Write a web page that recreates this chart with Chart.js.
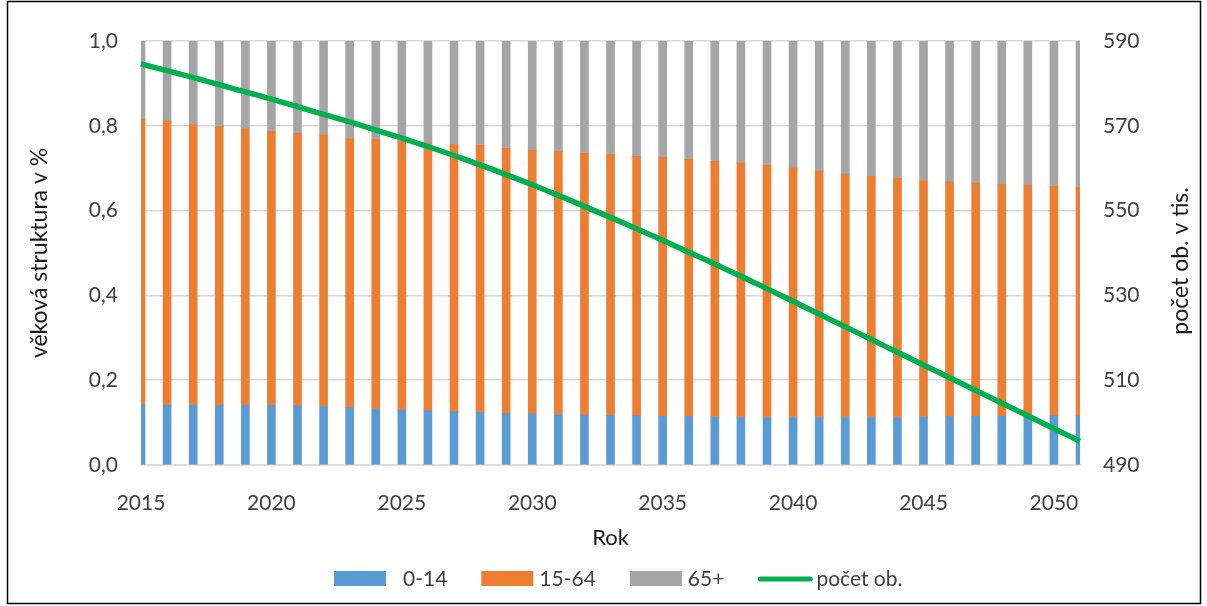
<!DOCTYPE html>
<html>
<head>
<meta charset="utf-8">
<script src="https://cdn.jsdelivr.net/npm/chart.js@4.4.1/dist/chart.umd.min.js"></script>
<style>
  html, body { margin: 0; padding: 0; background: #fff; }
  #wrap { position: relative; width: 1207px; height: 606px; }
</style>
</head>
<body>
<div id="wrap"><canvas id="chart" width="1207" height="606"></canvas></div>
<script>
// roky projekce
const years = [2015, 2016, 2017, 2018, 2019, 2020, 2021, 2022, 2023, 2024,
  2025, 2026, 2027, 2028, 2029, 2030, 2031, 2032, 2033, 2034,
  2035, 2036, 2037, 2038, 2039, 2040, 2041, 2042, 2043, 2044,
  2045, 2046, 2047, 2048, 2049, 2050, 2051];

// podíly věkových skupin (0-1)
const share0to14 = [0.142, 0.141, 0.141, 0.141, 0.141, 0.141, 0.140, 0.138, 0.135, 0.132,
  0.130, 0.128, 0.126, 0.124, 0.122, 0.121, 0.119, 0.118, 0.117, 0.116,
  0.115, 0.114, 0.113, 0.112, 0.112, 0.112, 0.112, 0.112, 0.112, 0.112,
  0.113, 0.114, 0.114, 0.115, 0.116, 0.116, 0.116];
const share15to64 = [0.674, 0.670, 0.662, 0.657, 0.652, 0.646, 0.642, 0.640, 0.635, 0.636,
  0.634, 0.632, 0.630, 0.630, 0.625, 0.621, 0.620, 0.617, 0.615, 0.612,
  0.611, 0.607, 0.603, 0.600, 0.595, 0.588, 0.581, 0.574, 0.569, 0.564,
  0.558, 0.554, 0.551, 0.547, 0.544, 0.541, 0.539];
const share65plus = [0.184, 0.189, 0.197, 0.202, 0.207, 0.213, 0.218, 0.222, 0.230, 0.232,
  0.236, 0.240, 0.244, 0.246, 0.253, 0.258, 0.261, 0.265, 0.268, 0.272,
  0.274, 0.279, 0.284, 0.288, 0.293, 0.300, 0.307, 0.314, 0.319, 0.324,
  0.329, 0.332, 0.335, 0.338, 0.340, 0.343, 0.345];

// počet obyvatel v tis.
const population = [584.6, 583.0, 581.4, 579.7, 578.0, 576.3, 574.5, 572.7, 570.9, 569.0,
  567.1, 565.1, 563.0, 560.8, 558.5, 556.1, 553.6, 551.0, 548.4, 545.7,
  543.0, 540.2, 537.4, 534.5, 531.6, 528.6, 525.6, 522.6, 519.6, 516.6,
  513.6, 510.6, 507.6, 504.6, 501.6, 498.6, 495.6];

const leftTicks = [0, 0.2, 0.4, 0.6, 0.8, 1.0];
const rightTicks = [490, 510, 530, 550, 570, 590];

const FONT = "Lato, 'Open Sans', sans-serif";
const TEXT = "#404040";
const TITLE = "#1a1a1a";
const GRID = "#d9d9d9";

// bílé pozadí + rámeček
const framePlugin = {
  id: "frame",
  beforeDraw(chart) {
    const ctx = chart.ctx;
    ctx.save();
    ctx.fillStyle = "#fff";
    ctx.fillRect(0, 0, chart.width, chart.height);
    ctx.restore();
  },
  afterDraw(chart) {
    const ctx = chart.ctx;
    ctx.save();
    ctx.strokeStyle = "#000";
    ctx.lineWidth = 1.5;
    ctx.strokeRect(7.5, 1.5, 1193, 602);
    ctx.restore();
  }
};

// popisek pravé osy (čte se zdola nahoru)
const rightTitlePlugin = {
  id: "rightTitle",
  afterDraw(chart) {
    const ctx = chart.ctx;
    ctx.save();
    ctx.translate(1181, 261);
    ctx.rotate(-Math.PI / 2);
    ctx.font = "23px " + FONT;
    ctx.fillStyle = TITLE;
    ctx.textAlign = "center";
    ctx.textBaseline = "middle";
    ctx.fillText("počet ob. v tis.", 0, 0);
    ctx.restore();
  }
};

// legenda dole
const legendPlugin = {
  id: "bottomLegend",
  afterDraw(chart) {
    const ctx = chart.ctx;
    const y = 579;
    ctx.save();
    ctx.font = "21px " + FONT;
    ctx.textBaseline = "middle";
    ctx.textAlign = "left";
    let x = 334;
    chart.data.datasets.forEach((ds, i) => {
      if (ds.type === "line") {
        ctx.strokeStyle = ds.borderColor;
        ctx.lineWidth = 5;
        ctx.lineCap = "round";
        ctx.beginPath();
        ctx.moveTo(x + 2, y);
        ctx.lineTo(x + 52, y);
        ctx.stroke();
      } else {
        ctx.fillStyle = ds.backgroundColor;
        ctx.fillRect(x, y - 8, 52, 15);
      }
      x += 52 + (i === 0 ? 17 : 6);
      ctx.fillStyle = TEXT;
      ctx.fillText(ds.label, x, y);
      x += ctx.measureText(ds.label).width + 34;
    });
    ctx.restore();
  }
};

const ctx = document.getElementById("chart").getContext("2d");

new Chart(ctx, {
  type: "bar",
  data: {
    labels: years.map(String),
    datasets: [
      {
        label: "0-14",
        data: share0to14,
        backgroundColor: "#5b9bd5",
        barThickness: 8,
        stack: "s",
        order: 1,
      },
      {
        label: "15-64",
        data: share15to64,
        backgroundColor: "#ed7d31",
        barThickness: 8,
        stack: "s",
        order: 1,
      },
      {
        label: "65+",
        data: share65plus,
        backgroundColor: "#a5a5a5",
        barThickness: 8,
        stack: "s",
        order: 1,
      },
      {
        type: "line",
        label: "počet ob.",
        data: population,
        yAxisID: "y2",
        borderColor: "#00b050",
        backgroundColor: "#00b050",
        borderWidth: 5.5,
        pointRadius: 0,
        tension: 0.3,
        order: 0,
      },
    ],
  },
  options: {
    responsive: false,
    animation: false,
    layout: { padding: { top: 41, left: 0, right: 0, bottom: 0 } },
    plugins: {
      legend: { display: false },
      tooltip: { enabled: false },
    },
    scales: {
      x: {
        stacked: true,
        offset: false,
        grid: { display: false },
        border: { display: true, color: GRID, width: 1.5 },
        ticks: {
          autoSkip: false,
          maxRotation: 0,
          padding: 18,
          color: TEXT,
          font: { family: FONT, size: 21 },
          callback: (v, i) => (years[i] % 5 === 0 ? String(years[i]) : ""),
        },
        title: {
          display: true,
          text: "Rok",
          color: TITLE,
          font: { family: FONT, size: 22 },
          padding: { top: 0, bottom: 55 },
        },
        afterFit: (s) => { s.height = 141; },
      },
      y: {
        stacked: true,
        min: 0,
        max: 1,
        position: "left",
        grid: { color: GRID, lineWidth: 1.5, drawTicks: false },
        border: { display: false },
        afterBuildTicks: (s) => { s.ticks = leftTicks.map((v) => ({ value: v })); },
        ticks: {
          padding: 23,
          color: TEXT,
          font: { family: FONT, size: 21 },
          callback: (v) => v.toFixed(1).replace(".", ","),
        },
        title: {
          display: true,
          text: "věková struktura v %",
          color: TITLE,
          font: { family: FONT, size: 23 },
          padding: { top: 26, bottom: 0 },
        },
        afterFit: (s) => { s.width = 141; },
      },
      y2: {
        min: 490,
        max: 590,
        position: "right",
        grid: { display: false, drawTicks: false },
        border: { display: false },
        afterBuildTicks: (s) => { s.ticks = rightTicks.map((v) => ({ value: v })); },
        ticks: {
          padding: 23,
          color: TEXT,
          font: { family: FONT, size: 21 },
        },
        afterFit: (s) => { s.width = 127; },
      },
    },
  },
  plugins: [framePlugin, rightTitlePlugin, legendPlugin],
});
</script>
</body>
</html>
